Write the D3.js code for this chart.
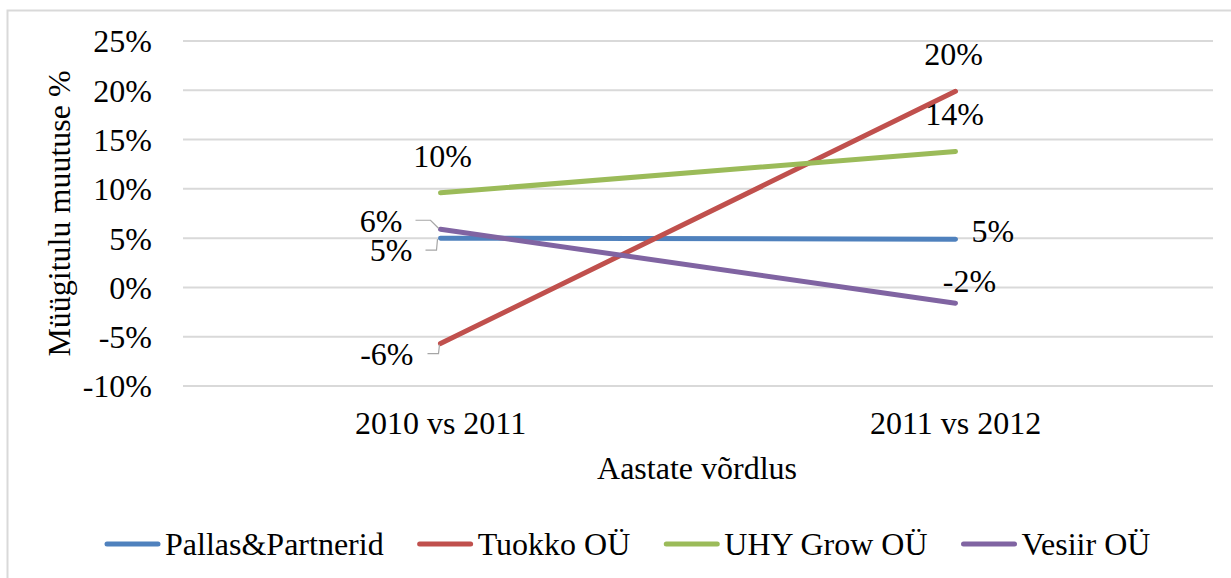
<!DOCTYPE html>
<html>
<head>
<meta charset="utf-8">
<script src="https://cdn.jsdelivr.net/npm/d3@7"></script>
<style>
    body { margin: 0; background: #fff; }
    text { font-family: "Liberation Serif", "Times New Roman", serif; font-size: 32px; fill: #000; }
</style>
</head>
<body>
<div id="chart"></div>
<script>
// Data
const categories = ["2010 vs 2011", "2011 vs 2012"];
const seriesNames = ["Pallas&Partnerid", "Tuokko OÜ", "UHY Grow OÜ", "Vesiir OÜ"];
const pallasValues = [0.050, 0.049];
const tuokkoValues = [-0.057, 0.199];
const uhyValues = [0.096, 0.138];
const vesiirValues = [0.059, -0.016];
const yTicks = [-0.10, -0.05, 0, 0.05, 0.10, 0.15, 0.20, 0.25];

const colors = ["#4f81bd", "#c0504d", "#9bbb59", "#8064a2"];
const allValues = [pallasValues, tuokkoValues, uhyValues, vesiirValues];

// label placement per series and point: [anchor, dx, dy, leader]
const labelPos = [
    [["end", -28, 23, [[-15, 12], [-4, 12], [-3, 1]]], ["start", 16, 3, null]],
    [["end", -27, 21, [[-13, 10], [-2, 10], [-1, 1]]], ["middle", -2, -26, null]],
    [["middle", 2, -26, null], ["middle", -1, -26, null]],
    [["end", -38, 3, [[-25, -9], [-10, -9], [-2, -1]]], ["middle", 14, -11, null]]
];

const W = 1231, H = 578;
const pct = d3.formatLocale({ decimal: ".", thousands: ",", grouping: [3], currency: ["", ""], minus: "-" }).format(".0%");

const svg = d3.select("#chart").append("svg")
    .attr("width", W)
    .attr("height", H);

// outer chart border
svg.append("rect")
    .attr("x", 7.5).attr("y", 10.5)
    .attr("width", 1300).attr("height", 700)
    .attr("fill", "#fff")
    .attr("stroke", "#d9d9d9")
    .attr("stroke-width", 2);

const x = d3.scaleBand().domain(categories).range([183, 1213]).padding(0);
const y = d3.scaleLinear().domain([-0.10, 0.25]).range([386, 41]);
const cx = c => x(c) + x.bandwidth() / 2;

// gridlines
svg.append("g")
    .selectAll("line")
    .data(yTicks)
    .enter()
    .append("line")
    .attr("x1", 183).attr("x2", 1213)
    .attr("y1", d => y(d)).attr("y2", d => y(d))
    .attr("stroke", "#d9d9d9")
    .attr("stroke-width", 2);

// y axis
const yAxis = svg.append("g")
    .attr("transform", "translate(152,0)")
    .call(d3.axisLeft(y).tickValues(yTicks).tickFormat(pct).tickSize(0).tickPadding(0));
yAxis.select(".domain").remove();
yAxis.selectAll("text")
    .attr("font-family", null).attr("font-size", null)
    .attr("dy", "0.34em");

// x axis labels
const xAxis = svg.append("g")
    .attr("transform", "translate(0,386)")
    .call(d3.axisBottom(x).tickSize(0).tickPadding(0));
xAxis.select(".domain").remove();
xAxis.selectAll("text")
    .attr("font-family", null).attr("font-size", null)
    .attr("y", 48).attr("dy", 0);

// axis titles
svg.append("text")
    .attr("text-anchor", "middle")
    .attr("x", 697).attr("y", 479)
    .text("Aastate võrdlus");

svg.append("text")
    .attr("text-anchor", "middle")
    .attr("transform", "translate(70,213.5) rotate(-90)")
    .text("Müügitulu muutuse %");

// lines
const line = d3.line()
    .x((d, i) => cx(categories[i]))
    .y(d => y(d));

svg.append("g")
    .selectAll("path")
    .data(allValues)
    .enter()
    .append("path")
    .attr("d", d => line(d))
    .attr("fill", "none")
    .attr("stroke", (d, i) => colors[i])
    .attr("stroke-width", 5)
    .attr("stroke-linecap", "round")
    .attr("stroke-linejoin", "round");

// data labels with leader lines
const labels = svg.append("g");
allValues.forEach((vals, s) => {
    vals.forEach((v, i) => {
        const px = cx(categories[i]), py = y(v);
        const [anchor, dx, dy, leader] = labelPos[s][i];
        if (leader) {
            labels.append("polyline")
                .attr("points", leader.map(p => (px + p[0]) + "," + (py + p[1])).join(" "))
                .attr("fill", "none")
                .attr("stroke", "#a6a6a6")
                .attr("stroke-width", 1.2);
        }
        labels.append("text")
            .attr("text-anchor", anchor)
            .attr("x", px + dx)
            .attr("y", py + dy)
            .text(pct(v));
    });
});

// legend
const legend = svg.append("g").attr("transform", "translate(0,544)");
let lx = 105;
seriesNames.forEach((name, i) => {
    const g = legend.append("g");
    g.append("line")
        .attr("x1", lx + 2).attr("x2", lx + 53)
        .attr("y1", 0).attr("y2", 0)
        .attr("stroke", colors[i])
        .attr("stroke-width", 5)
        .attr("stroke-linecap", "round");
    const t = g.append("text")
        .attr("x", lx + 60)
        .attr("y", 11)
        .text(name);
    lx += 60 + t.node().getComputedTextLength() + 34;
});
</script>
</body>
</html>
